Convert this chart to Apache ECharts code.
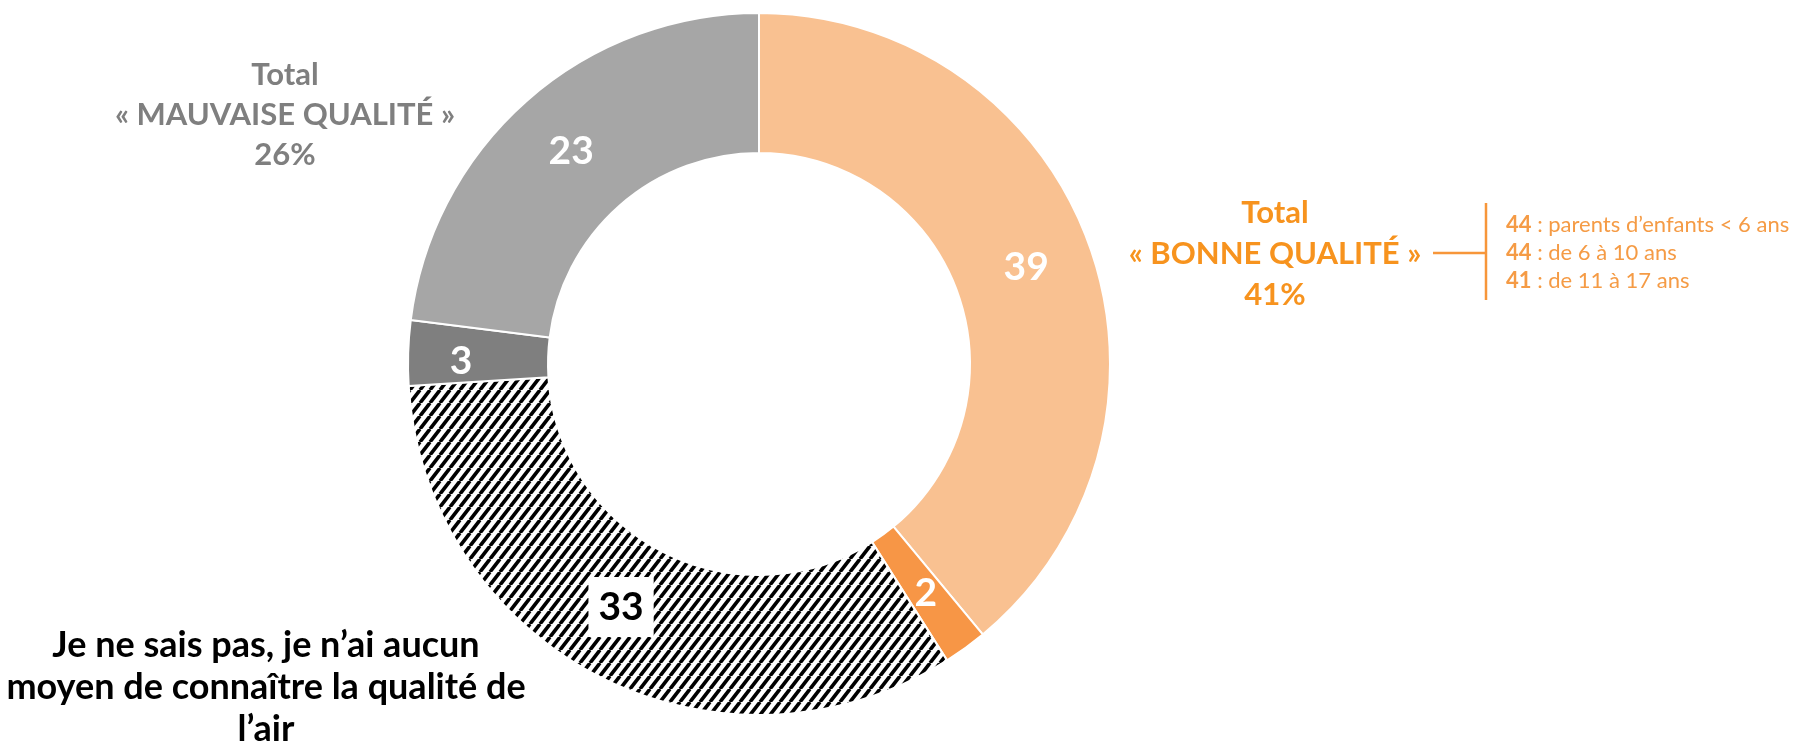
<!DOCTYPE html>
<html>
<head>
<meta charset="utf-8">
<script src="https://cdn.jsdelivr.net/npm/echarts@6/dist/echarts.min.js"></script>
<style>
  html, body { margin: 0; padding: 0; background: #fff; }
  #chart { width: 1796px; height: 746px; }
</style>
</head>
<body>
<div id="chart"></div>
<script>
  // parts de la couronne (sens horaire depuis midi)
  var categories = ['Plutôt bonne', 'Très bonne', 'Je ne sais pas', 'Très mauvaise', 'Plutôt mauvaise'];
  var values = [39, 2, 33, 3, 23];

  // détail "bonne qualité" par âge des enfants
  var subGroups = ['parents d\u2019enfants < 6 ans', 'de 6 à 10 ans', 'de 11 à 17 ans'];
  var subValues = [44, 44, 41];

  var totalBonne = values[0] + values[1];
  var totalMauvaise = values[3] + values[4];

  var FONT = 'Lato, "Open Sans", sans-serif';

  // motif hachuré noir / blanc
  function hatch() {
    var w = 10, h = 13;
    var c = document.createElement('canvas');
    c.width = w; c.height = h;
    var ctx = c.getContext('2d');
    ctx.fillStyle = '#fff';
    ctx.fillRect(0, 0, w, h);
    ctx.strokeStyle = '#000';
    ctx.lineWidth = 3.6;
    [-w, 0, w].forEach(function (o) {
      ctx.beginPath();
      ctx.moveTo(o, h);
      ctx.lineTo(o + w, 0);
      ctx.stroke();
    });
    return c;
  }

  var colors = ['#F9C191', '#F79646', { image: hatch(), repeat: 'repeat' }, '#7F7F7F', '#A6A6A6'];

  var seriesData = [];
  for (var i = 0; i < values.length; i++) {
    var item = {
      name: categories[i],
      value: values[i],
      itemStyle: { color: colors[i] }
    };
    if (i === 2) {
      item.label = {
        color: '#000',
        backgroundColor: '#fff',
        padding: [12, 10, 9, 10],
        offset: [-9, -10]
      };
    }
    if (i === 3) {
      item.label = { offset: [-14, 6] };
    }
    seriesData.push(item);
  }

  var chart = echarts.init(document.getElementById('chart'));
  chart.setOption({
    animation: false,
    series: [
      {
        type: 'pie',
        center: [759, 364],
        radius: [211, 351],
        startAngle: 90,
        clockwise: true,
        silent: true,
        avoidLabelOverlap: false,
        itemStyle: { borderColor: '#fff', borderWidth: 2 },
        label: {
          show: true,
          position: 'inside',
          formatter: '{c}',
          color: '#fff',
          fontFamily: FONT,
          fontWeight: 'bold',
          fontSize: 39
        },
        labelLine: { show: false },
        data: seriesData
      }
    ],
    graphic: [
      {
        type: 'text',
        x: 285, y: 115,
        style: {
          text: 'Total\n« MAUVAISE QUALITÉ »\n' + totalMauvaise + '%',
          textAlign: 'center', textVerticalAlign: 'middle',
          font: 'bold 31px ' + FONT, fill: '#7F7F7F', lineHeight: 40
        }
      },
      {
        type: 'text',
        x: 1275, y: 254,
        style: {
          text: 'Total\n« BONNE QUALITÉ »\n' + totalBonne + '%',
          textAlign: 'center', textVerticalAlign: 'middle',
          font: 'bold 31px ' + FONT, fill: '#F7931E', lineHeight: 41
        }
      },
      {
        type: 'text',
        x: 266, y: 687,
        style: {
          text: 'Je ne sais pas, je n\u2019ai aucun\nmoyen de connaître la qualité de\nl\u2019air',
          textAlign: 'center', textVerticalAlign: 'middle',
          font: 'bold 36px ' + FONT, fill: '#000', lineHeight: 42
        }
      },
      {
        type: 'line',
        shape: { x1: 1433, y1: 253, x2: 1486, y2: 253 },
        style: { stroke: '#F7963A', lineWidth: 2.5 }
      },
      {
        type: 'line',
        shape: { x1: 1486, y1: 203, x2: 1486, y2: 300 },
        style: { stroke: '#F7963A', lineWidth: 2.5 }
      },
      {
        type: 'text',
        x: 1506, y: 253,
        style: {
          text: subValues.map(function (v, k) { return '{b|' + v + '}{r| : ' + subGroups[k] + '}'; }).join('\n'),
          textAlign: 'left', textVerticalAlign: 'middle',
          font: '22px ' + FONT, fill: '#F59B45', lineHeight: 28,
          rich: {
            b: { font: 'bold 22px ' + FONT, fill: '#F59B45', lineHeight: 28 },
            r: { font: '22px ' + FONT, fill: '#F59B45', lineHeight: 28 }
          }
        }
      }
    ]
  });
</script>
</body>
</html>
